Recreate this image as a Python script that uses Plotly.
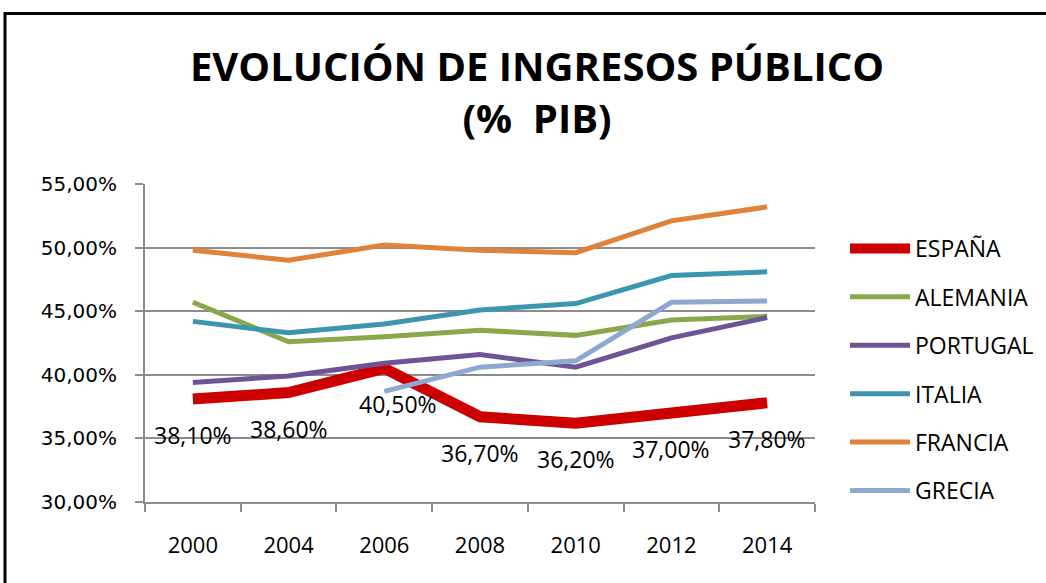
import plotly.graph_objects as go

# ---------------- data ----------------
years = ["2000", "2004", "2006", "2008", "2010", "2012", "2014"]
espana = [38.1, 38.6, 40.5, 36.7, 36.2, 37.0, 37.8]
alemania = [45.7, 42.6, 43.0, 43.5, 43.1, 44.3, 44.6]
portugal = [39.4, 39.9, 40.9, 41.6, 40.6, 42.9, 44.5]
italia = [44.2, 43.3, 44.0, 45.1, 45.6, 47.8, 48.1]
francia = [49.8, 49.0, 50.2, 49.8, 49.6, 52.1, 53.2]
grecia = [None, None, 38.7, 40.6, 41.1, 45.7, 45.8]
y_ticks = [30, 35, 40, 45, 50, 55]

series = [
    ("ESPAÑA", espana, "#CC0000", 11),
    ("ALEMANIA", alemania, "#8AA84B", 5),
    ("PORTUGAL", portugal, "#6E5494", 5),
    ("ITALIA", italia, "#3C96AE", 5),
    ("FRANCIA", francia, "#E0823A", 5),
    ("GRECIA", grecia, "#8EA9D0", 5),
]

FONT = "Open Sans"

W, H = 1046, 583
ML, MR, MT, MB = 145, 231, 184, 81
PW, PH = W - ML - MR, H - MT - MB

fig = go.Figure()
for name, vals, color, width in series:
    fig.add_trace(go.Scatter(
        x=years, y=vals, name=name, mode="lines",
        legendgroup=name,
        line=dict(color=color, width=width),
        connectgaps=False,
    ))

def fmt(v):
    return f"{v:.2f}".replace(".", ",") + "%"

label_xshift = {"2006": 14}
for i, (yr, v) in enumerate(zip(years, espana)):
    fig.add_annotation(
        x=i, y=v, xref="x", yref="y", text=fmt(v), showarrow=False,
        yshift=-36, xshift=label_xshift.get(yr, 0),
        font=dict(family=FONT, size=23, color="black"),
    )

# outer frame (extends past right and bottom edge)
fig.add_shape(
    type="rect", xref="paper", yref="paper",
    x0=(5 - ML) / PW, x1=(W + 20 - ML) / PW,
    y0=-(H + 20 - MT - PH) / PH, y1=(MT + PH - 13.5) / PH,
    line=dict(color="black", width=3), fillcolor="rgba(0,0,0,0)",
    layer="above",
)

fig.update_layout(
    width=W, height=H,
    margin=dict(l=ML, r=MR, t=MT, b=MB, autoexpand=False),
    paper_bgcolor="white", plot_bgcolor="white",
    title=dict(
        text="EVOLUCIÓN DE INGRESOS PÚBLICO<br>(%\u00a0 PIB)",
        x=537 / W, xanchor="center", xref="container",
        y=1 - 81 / H, yanchor="middle", yref="container",
        font=dict(family=FONT, size=40, color="black", weight="bold"),
    ),
    showlegend=True,
    legend=dict(
        x=(845 - ML) / PW, xanchor="left",
        y=(MT + PH - 227) / PH, yanchor="top",
        font=dict(family=FONT, size=23, color="black"),
        tracegroupgap=15.5,
        itemwidth=60,
        bgcolor="rgba(0,0,0,0)",
    ),
    xaxis=dict(
        type="category",
        showgrid=False, automargin=False,
        showline=True, linecolor="#8c8c8c", linewidth=2,
        ticks="outside", tickson="boundaries", ticklen=8, tickcolor="#8c8c8c", tickwidth=2,
        tickfont=dict(family=FONT, size=22, color="black"),
        ticklabelstandoff=23,
        range=[-0.5, 6.5],
    ),
    yaxis=dict(
        range=[30, 55], automargin=False,
        tickvals=y_ticks,
        ticktext=[fmt(v) for v in y_ticks],
        showgrid=True, gridcolor="#8c8c8c", gridwidth=2,
        showline=True, linecolor="#8c8c8c", linewidth=2,
        ticks="outside", ticklen=8, tickcolor="#8c8c8c", tickwidth=2,
        tickfont=dict(family="DejaVu Sans", size=20, color="black"),
        ticklabelstandoff=14,
        zeroline=False,
    ),
)

fig.write_html("out.html", config={"displayModeBar": False},
               post_script="document.body.style.margin='0';")
